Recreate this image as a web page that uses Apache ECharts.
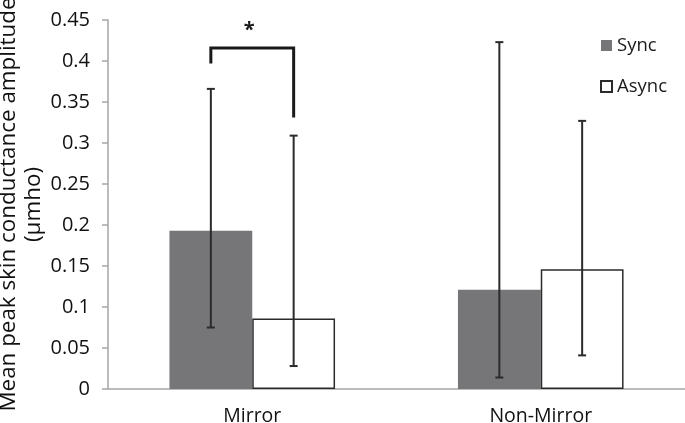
<!DOCTYPE html>
<html>
<head>
<meta charset="utf-8">
<script src="https://cdn.jsdelivr.net/npm/echarts@6/dist/echarts.min.js"></script>
<style>
html,body{margin:0;padding:0;background:#fff;}
#chart{width:685px;height:423px;}
</style>
</head>
<body>
<div id="chart"></div>
<script>
var categories = ['Mirror', 'Non-Mirror'];
var seriesNames = ['Sync', 'Async'];
var syncMeans = [0.193, 0.121];
var asyncMeans = [0.086, 0.146];
var syncLow = [0.075, 0.014];
var syncHigh = [0.366, 0.423];
var asyncLow = [0.028, 0.041];
var asyncHigh = [0.309, 0.327];
// significance bracket (Mirror: Sync vs Async)
var bracketCategory = 0;
var bracketTop = [0.416];
var bracketSyncLeg = [0.397];
var bracketAsyncLeg = [0.331];
var starValue = [0.44];
var starLabel = '*';
var yTicks = [0, 0.05, 0.1, 0.15, 0.2, 0.25, 0.3, 0.35, 0.4, 0.45];

var FONT = '"Open Sans", "DejaVu Sans", sans-serif';
var GAP = 0.426;
var SHARE = 1 - GAP;

function errRender(sign) {
  return function (params, api) {
    var c = api.value(0);
    var lo = api.coord([c, api.value(1)]);
    var hi = api.coord([c, api.value(2)]);
    var bw = api.size([1, 0])[0];
    var x = lo[0] + sign * bw * SHARE / 4;
    var cap = 4;
    var st = {stroke: '#2b2b2b', lineWidth: 2};
    return {
      type: 'group',
      children: [
        {type: 'line', shape: {x1: x, y1: hi[1], x2: x, y2: lo[1]}, style: st},
        {type: 'line', shape: {x1: x - cap, y1: hi[1], x2: x + cap, y2: hi[1]}, style: st},
        {type: 'line', shape: {x1: x - cap, y1: lo[1], x2: x + cap, y2: lo[1]}, style: st}
      ]
    };
  };
}

function bracketRender(params, api) {
  var c = api.value(0);
  var top = api.coord([c, api.value(1)]);
  var l1 = api.coord([c, api.value(2)]);
  var l2 = api.coord([c, api.value(3)]);
  var s = api.coord([c, api.value(4)]);
  var bw = api.size([1, 0])[0];
  var off = bw * SHARE / 4;
  var xl = top[0] - off, xr = top[0] + off;
  return {
    type: 'group',
    children: [
      {type: 'polyline', shape: {points: [[xl, l1[1]], [xl, top[1]], [xr, top[1]], [xr, l2[1]]]},
        style: {stroke: '#1a1a1a', lineWidth: 3, fill: null}},
      {type: 'text', x: s[0] - 3, y: s[1] + 2, style: {text: starLabel, font: 'bold 20px ' + FONT,
        fill: '#1a1a1a', align: 'center', verticalAlign: 'middle'}}
    ]
  };
}

var chart = echarts.init(document.getElementById('chart'));
chart.setOption({
  animation: false,
  backgroundColor: '#fff',
  grid: {left: 108, right: 0, top: 20, bottom: 34, containLabel: false, outerBoundsMode: 'none'},
  legend: {
    orient: 'vertical', left: 600, top: 36, padding: 0,
    itemWidth: 11, itemHeight: 11, itemGap: 22,
    icon: 'rect',
    data: seriesNames,
    textStyle: {fontFamily: FONT, fontSize: 18.5, color: '#1a1a1a', padding: [0, 0, 0, 0]}
  },
  xAxis: {
    type: 'category',
    data: categories,
    axisLine: {lineStyle: {color: '#a6a6a6', width: 1.5}},
    axisTick: {show: false},
    axisLabel: {fontFamily: FONT, fontSize: 19.5, color: '#111', margin: 17}
  },
  yAxis: {
    type: 'value', min: 0, max: 0.45, interval: 0.05,
    name: 'Mean peak skin conductance amplitude\n(µmho)',
    nameLocation: 'middle', nameGap: 62, nameRotate: 90, nameMoveOverlap: false,
    nameTextStyle: {fontFamily: FONT, fontSize: 22.4, color: '#111', lineHeight: 25, align: 'center'},
    axisLine: {show: true, lineStyle: {color: '#a6a6a6', width: 1.5}},
    axisTick: {show: true, length: 6, lineStyle: {color: '#a6a6a6', width: 1.5}},
    splitLine: {show: false},
    axisLabel: {fontFamily: FONT, fontSize: 20, color: '#111', margin: 18,
      formatter: function (v) { return String(+v.toFixed(2)); }}
  },
  series: [
    {name: seriesNames[0], type: 'bar', data: syncMeans, barGap: 0, barCategoryGap: (GAP * 100) + '%',
      itemStyle: {color: '#767678'}},
    {name: seriesNames[1], type: 'bar', data: asyncMeans, barGap: 0, barCategoryGap: (GAP * 100) + '%',
      itemStyle: {color: '#ffffff', borderColor: '#2b2b2b', borderWidth: 1.5}},
    {type: 'custom', z: 5, clip: false, renderItem: errRender(-1),
      encode: {x: 0, y: [1, 2]},
      data: categories.map(function (c, i) { return [i, syncLow[i], syncHigh[i]]; })},
    {type: 'custom', z: 5, clip: false, renderItem: errRender(1),
      encode: {x: 0, y: [1, 2]},
      data: categories.map(function (c, i) { return [i, asyncLow[i], asyncHigh[i]]; })},
    {type: 'custom', z: 6, clip: false, renderItem: bracketRender,
      encode: {x: 0, y: [1, 2, 3, 4]},
      data: [[bracketCategory, bracketTop[0], bracketSyncLeg[0], bracketAsyncLeg[0], starValue[0]]]}
  ]
});
</script>
</body>
</html>
